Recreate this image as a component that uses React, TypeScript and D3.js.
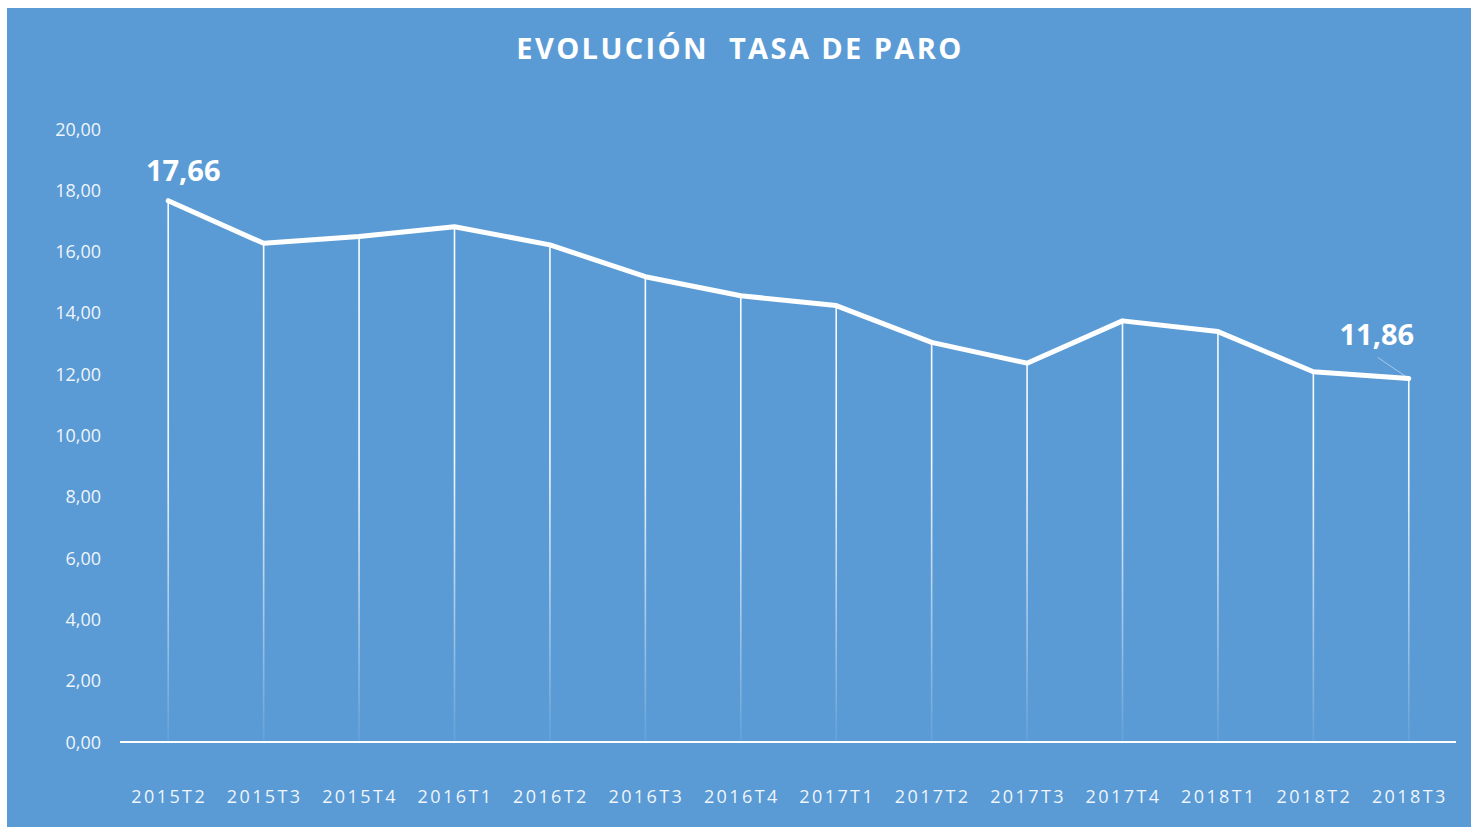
import { useEffect, useRef } from 'react'
import * as d3 from 'd3'

// EPA tasa de paro, trimestral
const categories = [
  '2015T2', '2015T3', '2015T4', '2016T1', '2016T2', '2016T3', '2016T4',
  '2017T1', '2017T2', '2017T3', '2017T4', '2018T1', '2018T2', '2018T3',
]
const tasaParo = [
  17.66, 16.27, 16.49, 16.81, 16.22, 15.18, 14.56,
  14.24, 13.04, 12.36, 13.74, 13.39, 12.08, 11.86,
]
const yTicks = [0, 2, 4, 6, 8, 10, 12, 14, 16, 18, 20]

const W = 1471
const H = 827
const BG = '#5B9BD5'
const FONT = '"Open Sans", "Noto Sans", sans-serif'

const fmt = (v: number) => v.toFixed(2).replace('.', ',')

export default function App() {
  const ref = useRef<SVGSVGElement>(null)

  useEffect(() => {
    const svg = d3.select(ref.current)
    svg.selectAll('*').remove()

    const margin = { top: 129, right: 15, bottom: 85, left: 120 }
    const x = d3.scaleBand().domain(categories).range([margin.left, W - margin.right])
    const y = d3.scaleLinear().domain([0, 20]).range([H - margin.bottom, margin.top])
    const cx = (c: string) => (x(c) ?? 0) + x.bandwidth() / 2 + 0.5

    svg.append('rect').attr('width', W).attr('height', H).attr('fill', '#fff')
    svg.append('rect').attr('x', 7).attr('y', 8).attr('width', W - 7).attr('height', H - 8).attr('fill', BG)

    // fading drop lines
    const grad = svg.append('defs').append('linearGradient')
      .attr('id', 'dropFade')
      .attr('gradientUnits', 'userSpaceOnUse')
      .attr('x1', 0).attr('x2', 0)
      .attr('y1', y(20)).attr('y2', y(0))
    grad.append('stop').attr('offset', '0%').attr('stop-color', '#fff').attr('stop-opacity', 1)
    grad.append('stop').attr('offset', '55%').attr('stop-color', '#fff').attr('stop-opacity', 0.92)
    grad.append('stop').attr('offset', '100%').attr('stop-color', '#fff').attr('stop-opacity', 0.06)

    // title
    svg.append('text')
      .attr('x', 740).attr('y', 59)
      .attr('text-anchor', 'middle')
      .style('font-family', FONT)
      .style('font-size', '29px')
      .style('font-weight', 700)
      .style('letter-spacing', '2.4px')
      .attr('fill', '#fff')
      .attr('xml:space', 'preserve')
      .text('EVOLUCIÓN  TASA DE PARO')

    // y tick labels
    svg.append('g').selectAll('text').data(yTicks).enter().append('text')
      .attr('x', 101).attr('y', d => y(d) + 6.5)
      .attr('text-anchor', 'end')
      .style('font-family', FONT)
      .style('font-size', '18px')
      .attr('fill', '#fff').attr('fill-opacity', 0.92)
      .text(d => fmt(d))

    // x labels
    svg.append('g').selectAll('text').data(categories).enter().append('text')
      .attr('x', d => cx(d) + 1).attr('y', 803)
      .attr('text-anchor', 'middle')
      .style('font-family', FONT)
      .style('font-size', '18px')
      .style('letter-spacing', '2.4px')
      .attr('fill', '#fff').attr('fill-opacity', 0.92)
      .text(d => d)

    const pts = categories.map((c, i) => ({ c, v: tasaParo[i] }))

    svg.append('g').selectAll('line').data(pts).enter().append('line')
      .attr('x1', d => cx(d.c)).attr('x2', d => cx(d.c) + 0.01)
      .attr('y1', d => y(d.v)).attr('y2', y(0))
      .attr('stroke', 'url(#dropFade)')
      .attr('stroke-width', 1.6)

    // axis line
    svg.append('line')
      .attr('x1', margin.left).attr('x2', W - margin.right)
      .attr('y1', y(0)).attr('y2', y(0))
      .attr('stroke', '#fff').attr('stroke-width', 2.2)

    const line = d3.line<{ c: string; v: number }>().x(d => cx(d.c)).y(d => y(d.v))
    svg.append('path')
      .attr('d', line(pts))
      .attr('fill', 'none')
      .attr('stroke', '#fff')
      .attr('stroke-width', 5)
      .attr('stroke-linejoin', 'round')
      .attr('stroke-linecap', 'round')

    // data labels: first and last
    const first = pts[0]
    const last = pts[pts.length - 1]
    svg.append('text')
      .attr('x', cx(first.c) + 15).attr('y', y(first.v) - 20)
      .attr('text-anchor', 'middle')
      .style('font-family', FONT).style('font-size', '29px').style('font-weight', 700)
      .attr('fill', '#fff')
      .text(fmt(first.v))

    svg.append('line')
      .attr('x1', cx(last.c) - 31).attr('y1', y(last.v) - 21)
      .attr('x2', cx(last.c) - 3).attr('y2', y(last.v) - 2)
      .attr('stroke', '#fff').attr('stroke-opacity', 0.45).attr('stroke-width', 1)
    svg.append('text')
      .attr('x', cx(last.c) - 32).attr('y', y(last.v) - 33)
      .attr('text-anchor', 'middle')
      .style('font-family', FONT).style('font-size', '29px').style('font-weight', 700)
      .attr('fill', '#fff')
      .text(fmt(last.v))
  }, [])

  return <svg ref={ref} width={W} height={H} style={{ position: 'absolute', left: 0, top: 0 }} />
}
